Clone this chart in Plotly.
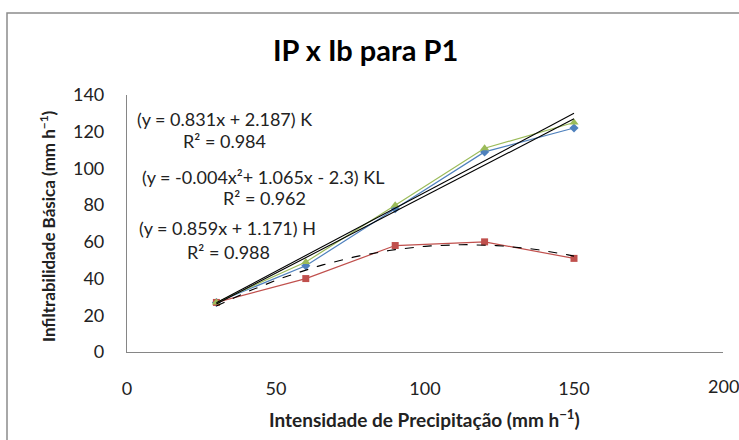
import numpy as np
import plotly.graph_objects as go

# ---- data ----
x_vals = [30, 60, 90, 120, 150]
ib_k = [27, 47, 78, 109, 122]      # blue diamonds
ib_h = [27, 49, 80, 111, 125]      # green triangles
ib_kl = [27, 40, 58, 60, 51]       # red squares
x_ticks = [0, 50, 100, 150, 200]
x_tick_labels = ["0", "50", "100", "150", "200"]
y_ticks = [0, 20, 40, 60, 80, 100, 120, 140]
labels = [
    "(y = 0.831x + 2.187) K", "R² = 0.984",
    "(y = -0.004x²+ 1.065x - 2.3) KL", "R² = 0.962",
    "(y = 0.859x + 1.171) H", "R² = 0.988",
]

W, H = 739, 440
L, R, T, B = 127, 16, 95, 88
pw, ph = W - L - R, H - T - B


def px(x):
    return (x - L) / pw


def py(y):
    return (H - B - y) / ph


FONT = "Lato"
BLUE, RED, GREEN = "#4F81BD", "#C0504D", "#9BBB59"

fig = go.Figure()

fig.add_trace(go.Scatter(x=x_vals, y=ib_k, mode="lines+markers",
                         line=dict(color=BLUE, width=1.2),
                         marker=dict(symbol="diamond", size=7, color=BLUE)))
fig.add_trace(go.Scatter(x=x_vals, y=ib_kl, mode="lines+markers",
                         line=dict(color=RED, width=1.2),
                         marker=dict(symbol="square", size=7, color=RED)))
fig.add_trace(go.Scatter(x=x_vals, y=ib_h, mode="lines+markers",
                         line=dict(color=GREEN, width=1.2),
                         marker=dict(symbol="triangle-up", size=8, color=GREEN)))

# trendlines fitted from the data
xf = np.linspace(min(x_vals), max(x_vals), 61)
for ys, deg, dash in [(ib_k, 1, "solid"), (ib_h, 1, "solid"), (ib_kl, 2, "dash")]:
    c = np.polyfit(x_vals, ys, deg)
    fig.add_trace(go.Scatter(x=xf, y=np.polyval(c, xf), mode="lines",
                             line=dict(color="black", width=1.1, dash=dash),
                             hoverinfo="skip"))

axis_common = dict(showgrid=False, zeroline=False, showline=True,
                   linecolor="#868686", linewidth=1.2, ticks="",
                   tickfont=dict(family=FONT, size=18, color="#222"))

# last x label is drawn as an annotation so it can run off the page edge
# (as in the reference) without plotly pushing the right margin
fig.update_xaxes(range=[0, 200], tickvals=x_ticks,
                 ticktext=x_tick_labels[:-1] + [""], ticklabelstandoff=20,
                 **axis_common)
fig.update_yaxes(range=[0, 140], tickvals=y_ticks, ticklabelstandoff=18,
                 **axis_common)

ann = []
ann.append(dict(text=x_tick_labels[-1], x=x_ticks[-1], xref="x",
                y=py(386), yref="paper",
                font=dict(family=FONT, size=18, color="#222")))
ann.append(dict(text="<b>IP x Ib para P1</b>", x=px(365), y=py(50),
                font=dict(family=FONT, size=29, color="black")))
ann.append(dict(text="<b>Intensidade de Precipitação (mm h<sup>−1</sup>)</b>",
                x=px(424), y=py(418), font=dict(family=FONT, size=19, color="#222")))
ann.append(dict(text="<b>Infiltrabilidade Básica (mm h<sup>−1</sup>)</b>",
                x=px(47), y=py(226), textangle=-90,
                font=dict(family=FONT, size=17, color="#222")))
pos = [(224, 119), (224, 141), (263, 177), (264, 198), (227, 228), (228, 252)]
for t, (ax, ay) in zip(labels, pos):
    ann.append(dict(text=t, x=px(ax), y=py(ay),
                    font=dict(family=FONT, size=18, color="#222")))
for a in ann:
    a.setdefault("xref", "paper")
    a.setdefault("yref", "paper")
    a.update(showarrow=False, xanchor="center", yanchor="middle")

fig.update_layout(
    width=W, height=H, margin=dict(l=L, r=R, t=T, b=B),
    paper_bgcolor="white", plot_bgcolor="white", showlegend=False,
    annotations=ann,
    shapes=[dict(type="rect", xref="paper", yref="paper",
                 x0=px(7), x1=px(760), y0=py(470), y1=py(13),
                 line=dict(color="#8C8C8C", width=1.5), layer="below")],
)

fig.write_html("out.html")
